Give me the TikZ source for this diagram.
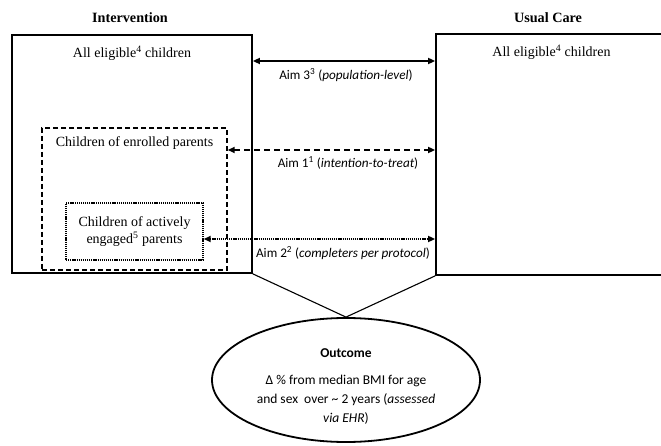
\documentclass[tikz,border=0pt]{standalone}
\usepackage{fontspec}
\setmainfont{Liberation Serif}
\newfontfamily\calfont{Carlito}
\usetikzlibrary{shapes.geometric,positioning,arrows.meta}

\begin{document}
\begin{tikzpicture}[x=1pt,y=-1pt,
        box/.style={draw, line width=1.8pt, inner sep=0pt},
        aim/.style={line width=1.8pt, {Triangle[length=7pt,width=6pt]}-{Triangle[length=7pt,width=6pt]}},
        aimlabel/.style={font=\calfont\fontsize{13.2}{15}\selectfont},
        boxtext/.style={font=\fontsize{14}{17}\selectfont, align=center},
        head/.style={font=\bfseries\fontsize{14.2}{16}\selectfont}]
        \useasboundingbox (0,0) rectangle (661,446);
        % arms
        \node[head] (inthead) at (130,18) {Intervention};
        \node[head] (uchead) at (548,18) {Usual Care};
        \node[box, minimum width=240pt, minimum height=238pt] (int) at (132,154) {};
        \node[box, minimum width=231pt, minimum height=241pt] (uc) at (551.5,154.5) {};
        \node[boxtext, below=8pt of int.north] (intall) {All eligible\textsuperscript{4} children};
        \node[boxtext, below=8pt of uc.north] (ucall) {All eligible\textsuperscript{4} children};
        % nested groups
        \node[box, line width=1.4pt, dash pattern=on 5pt off 3pt,
        minimum width=185pt, minimum height=142pt] (enr) at (134.5,199) {};
        \node[boxtext, below=6pt of enr.north] (enrtext) {Children of enrolled parents};
        \node[box, line width=1.4pt, dash pattern=on 1.2pt off 0.9pt,
        minimum width=137pt, minimum height=57pt] (eng) at (134.5,231.5) {};
        \node[boxtext] (engtext) at (eng.center) {Children of actively\\engaged\textsuperscript{5} parents};
        % aims
        \draw[aim] (int.east |- 0,61) -- (uc.west |- 0,61);
        \draw[aim, dash pattern=on 6pt off 4pt] (enr.east |- 0,150) -- (uc.west |- 0,150);
        \draw[aim, dash pattern=on 1.2pt off 0.9pt] (eng.east |- 0,239) -- (uc.west |- 0,239);
        \node[aimlabel] (aim3) at (346,75) {Aim 3\textsuperscript{3} (\textit{population-level})};
        \node[aimlabel] (aim1) at (348,163) {Aim 1\textsuperscript{1} (\textit{intention-to-treat})};
        \node[aimlabel] (aim2) at (343,253) {Aim 2\textsuperscript{2} (\textit{completers per protocol})};
        % outcome
        \node[ellipse, draw, line width=1.8pt, minimum width=268pt, minimum height=124pt] (out) at (346,380) {};
        \draw[line width=1.1pt] (int.south east) -- (out.north) -- (uc.south west);
        \node[font=\calfont\bfseries\fontsize{13.5}{15}\selectfont] (outhead) at (346,353) {Outcome};
        \node[align=center, font=\calfont\fontsize{13.5}{19}\selectfont] (outtext) at (346,400)
        {Δ \% from median BMI for age\\and sex\ \ over \textasciitilde\ 2 years (\textit{assessed}\\\textit{via EHR})};
\end{tikzpicture}
\end{document}
